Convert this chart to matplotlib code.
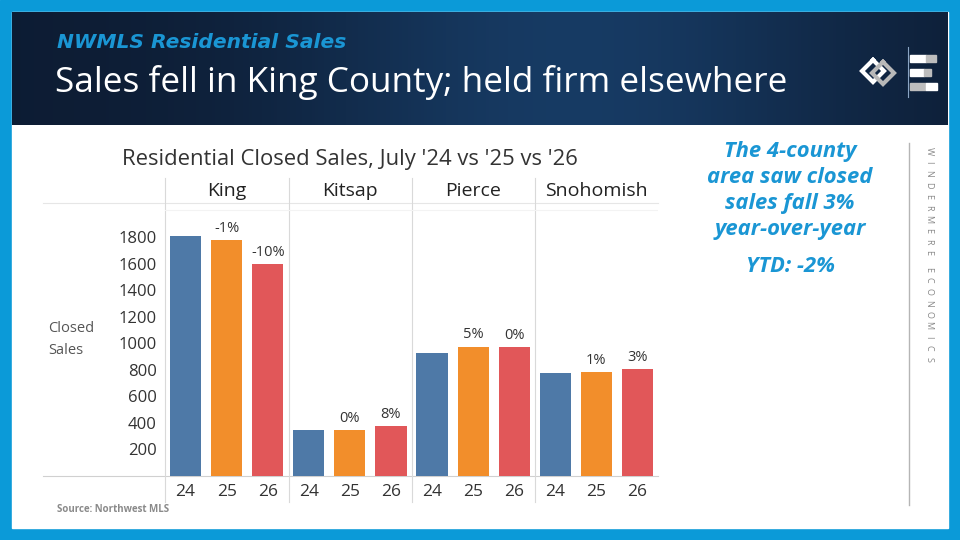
import numpy as np
import matplotlib
matplotlib.use('Agg')
import matplotlib.pyplot as plt
from matplotlib.patches import Rectangle

# chart data
counties = ['King', 'Kitsap', 'Pierce', 'Snohomish']
years = ['24', '25', '26']
sales_24 = [1805, 345, 930, 773]
sales_25 = [1778, 345, 975, 780]
sales_26 = [1598, 373, 972, 803]
chg_25 = ['-1%', '0%', '5%', '1%']
chg_26 = ['-10%', '8%', '0%', '3%']
y_ticks = [200, 400, 600, 800, 1000, 1200, 1400, 1600, 1800]

year_colors = ['#4e79a7', '#f28e2b', '#e15759']
border_blue = '#0b9ad8'
accent_blue = '#1a96d4'
FONT = 'Open Sans'

fig = plt.figure(figsize=(9.6, 5.4), dpi=100)

# background layer in pixel coordinates
bg = fig.add_axes([0, 0, 1, 1], zorder=0)
bg.set_xlim(0, 960)
bg.set_ylim(540, 0)
bg.axis('off')

bg.add_patch(Rectangle((0, 0), 960, 540, color=border_blue))
bg.add_patch(Rectangle((12, 12), 936, 516, color='white'))

# header band with a soft horizontal gradient
grad = np.linspace(0, 1, 300)
shade = np.exp(-((grad - 0.6) / 0.3) ** 2)
dark = np.array([0.05, 0.11, 0.20])
light = np.array([0.09, 0.23, 0.39])
img = dark + (light - dark) * shade[:, None]
bg.imshow(img[None, :, :], extent=(12, 948, 125, 12), aspect='auto', zorder=1)

bg.text(57, 43, 'NWMLS Residential Sales', color=accent_blue, fontsize=14.6,
        fontweight='bold', fontstyle='italic', family='DejaVu Sans', va='center', ha='left', zorder=3)
bg.text(55, 82, 'Sales fell in King County; held firm elsewhere', color='white',
        fontsize=25.3, family=FONT, va='center', ha='left', zorder=3)

# simple logo
bg.plot([873, 862, 873, 884, 873], [60, 71, 82, 71, 60], color='white', lw=3, zorder=3,
        solid_joinstyle='miter')
bg.plot([883, 872, 883, 894, 883], [62, 73, 84, 73, 62], color='#b8b8b8', lw=3, zorder=3,
        solid_joinstyle='miter')
bg.plot([908, 908], [47, 97], color='#8aa4c4', lw=0.8, zorder=3)
bg.add_patch(Rectangle((910, 55), 16, 7, color='white', zorder=3))
bg.add_patch(Rectangle((926, 55), 10, 7, color='#bdbdbd', zorder=3))
bg.add_patch(Rectangle((910, 69), 14, 7, color='white', zorder=3))
bg.add_patch(Rectangle((924, 69), 7, 7, color='#bdbdbd', zorder=3))
bg.add_patch(Rectangle((910, 83), 16, 7, color='#bdbdbd', zorder=3))
bg.add_patch(Rectangle((926, 83), 11, 7, color='white', zorder=3))

# chart frame lines
bg.plot([43, 658], [203, 203], color='#e6e6e6', lw=0.8, zorder=2)
bg.plot([43, 658], [476, 476], color='#d0d0d0', lw=0.8, zorder=2)
for xs in [165, 288.5, 411.5, 534.5]:
    bg.plot([xs, xs], [178, 502], color='#d9d9d9', lw=0.8, zorder=2)

bg.text(350, 160, "Residential Closed Sales, July '24 vs '25 vs '26", color='#333333',
        fontsize=15.8, family=FONT, ha='center', va='center')
bg.text(48, 328, 'Closed', color='#555555', fontsize=10.5, family=FONT, va='center')
bg.text(48, 350, 'Sales', color='#555555', fontsize=10.5, family=FONT, va='center')
bg.text(57, 510, 'Source: Northwest MLS', color='#8a8a8a', fontsize=7, family=FONT,
        fontweight='bold', va='center')

# right-hand commentary
for i, line in enumerate(['The 4-county', 'area saw closed', 'sales fall 3%', 'year-over-year']):
    bg.text(790, 152 + i * 25.7, line, color=accent_blue, fontsize=15.8, family=FONT,
            fontweight='bold', fontstyle='italic', ha='center', va='center')
bg.text(790, 267, 'YTD: -2%', color=accent_blue, fontsize=15.8, family=FONT,
        fontweight='bold', fontstyle='italic', ha='center', va='center')
bg.plot([909, 909], [143, 505], color='#b5b5b5', lw=1)

# vertical wordmark, one letter at a time
ypos = 151
for word in ['WINDERMERE', 'ECONOMICS']:
    for ch in word:
        bg.text(929, ypos, ch, color='#8a8a8a', fontsize=6.5, family=FONT,
                rotation=-90, ha='center', va='center')
        ypos += 11.3
    ypos += 5

# bar chart
ax = fig.add_axes([165 / 960, 1 - 476 / 540, 493 / 960, 273 / 540], zorder=1)
ax.patch.set_alpha(0)
n = len(counties)
series = [sales_24, sales_25, sales_26]
x_pos = np.arange(n * 3)
heights = [series[j][i] for i in range(n) for j in range(3)]
colors = [year_colors[j] for i in range(n) for j in range(3)]
bars = ax.bar(x_pos, heights, width=0.76, color=colors, zorder=2)

for i in range(n):
    for j, lab in [(1, chg_25[i]), (2, chg_26[i])]:
        b = bars[i * 3 + j]
        ax.annotate(lab, (b.get_x() + b.get_width() / 2, b.get_height()),
                    xytext=(0, 3), textcoords='offset points', ha='center', va='bottom',
                    fontsize=10.5, family=FONT, color='#333333')

for i, c in enumerate(counties):
    ax.text(i * 3 + 1, 1.045, c, transform=ax.get_xaxis_transform(), ha='center',
            va='center', fontsize=14, family=FONT, color='#222222')

ax.set_xlim(-0.5, n * 3 - 0.5)
ax.set_ylim(0, 2056)
ax.set_yticks(y_ticks)
ax.set_yticklabels([str(v) for v in y_ticks], family=FONT, fontsize=12, color='#333333')
ax.set_xticks(x_pos)
ax.set_xticklabels(years * n, family=FONT, fontsize=12.5, color='#333333')
ax.set_yticks([200 * k for k in range(1, 11)], minor=True)
ax.tick_params(which='both', length=0)
ax.tick_params(axis='x', pad=6)
ax.tick_params(axis='y', pad=6)
for s in ax.spines.values():
    s.set_visible(False)
ax.grid(axis='y', which='minor', color='#f3f3f3', lw=0.8, zorder=0)

fig.savefig('out.png', dpi=100)
